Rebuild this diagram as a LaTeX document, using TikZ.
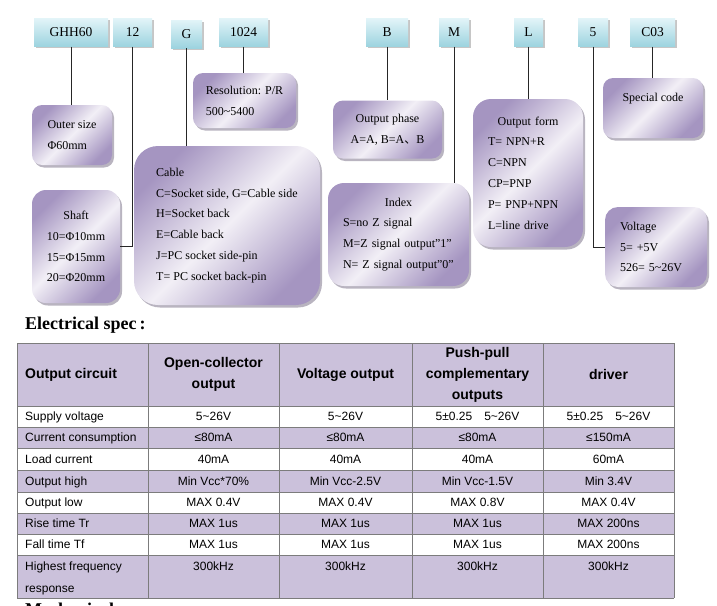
\documentclass[tikz,border=0pt]{standalone}
\usepackage{fontspec}
\setmainfont{Liberation Serif}
\setsansfont{Liberation Sans}
\newfontfamily\cjk{Noto Sans CJK SC}
\usetikzlibrary{shadows}
\definecolor{ccyanlt}{HTML}{E2F4F8}
\definecolor{ccyandk}{HTML}{9CD3DF}
\definecolor{cpurplelt}{HTML}{F2EFF6}
\definecolor{cpurpledk}{HTML}{A595C1}
\definecolor{ctable}{HTML}{CBC1DB}
\definecolor{cgrid}{HTML}{7C7C7C}
\tikzset{
  every picture/.style={x=1pt, y=-1pt},
  code/.style={top color=ccyanlt, bottom color=ccyandk, minimum height=28pt, inner sep=0pt,
    font=\fontsize{13.5}{16}\selectfont,
    drop shadow={shadow xshift=1.5pt, shadow yshift=-1.5pt, fill=black!50, opacity=.45}},
  info/.style={left color=cpurpledk, right color=cpurpledk, middle color=cpurplelt, shading angle=45,
    rounded corners=#1, inner sep=0pt, font=\fontsize{12}{20.8}\selectfont,
    drop shadow={shadow xshift=2pt, shadow yshift=-2.5pt, fill=cpurpledk!60!black, opacity=.45}},
  info/.default=10pt,
  link/.style={draw=black!85, line width=1pt},
  grid/.style={draw=cgrid, line width=1pt},
  cell/.style={font=\sffamily\fontsize{12}{22}\selectfont, inner sep=0pt, text height=8.6pt, text depth=0pt},
  head/.style={font=\sffamily\bfseries\fontsize{14}{21}\selectfont, inner sep=0pt, align=center},
  title/.style={font=\bfseries\fontsize{18}{20}\selectfont, inner sep=0pt, anchor=base west},
}
\begin{document}
\begin{tikzpicture}
  \useasboundingbox (0,0) rectangle (717,605);
  \clip (0,0) rectangle (717,605);
  % type code
  \node[code, minimum width=74pt] (ghh) at (71,32.5) {GHH60};
  \node[code, minimum width=39pt] (c12) at (132.5,32.5) {12};
  \node[code, minimum width=31pt] (cg) at (186.5,34) {G};
  \node[code, minimum width=49pt] (c1024) at (243.5,32.5) {1024};
  \node[code, minimum width=42pt] (cb) at (387,32.5) {B};
  \node[code, minimum width=30pt] (cm) at (454,32.5) {M};
  \node[code, minimum width=29pt] (cl) at (528.5,32.5) {L};
  \node[code, minimum width=30pt] (c5) at (593,32.5) {5};
  \node[code, minimum width=45pt] (cc03) at (652.5,32.5) {C03};
  % meaning of each part
  \node[info=10pt, minimum width=103pt, minimum height=55pt, align=left] (res) at (244.5,100.5) {Resolution: P/R\\500\textasciitilde5400};
  \node[info=10pt, minimum width=80pt, minimum height=60pt, align=left] (size) at (72,135) {Outer size\\Φ60mm};
  \node[info=10pt, minimum width=109pt, minimum height=58pt, align=center] (phase) at (387.5,129.5) {Output phase\\A=A, B=A{\cjk 、}B};
  \node[info=18pt, minimum width=110pt, minimum height=148pt, text width=80pt, align=left] (form) at (528,173)
    {\makebox[\linewidth]{Output form}\\T= NPN+R\\C=NPN\\CP=PNP\\P= PNP+NPN\\L=line drive};
  \node[info=10pt, minimum width=100pt, minimum height=60pt, align=center] (special) at (653,108) {Special code\\\mbox{}};
  \node[info=24pt, minimum width=186pt, minimum height=159pt, align=left] (cable) at (227,225.5)
    {Cable\\C=Socket side, G=Cable side\\H=Socket back\\E=Cable back\\J=PC socket side-pin\\T= PC socket back-pin};
  \node[info=14pt, minimum width=88pt, minimum height=113pt, align=center] (shaft) at (76,246.5)
    {Shaft\\10=Φ10mm\\15=Φ15mm\\20=Φ20mm};
  \node[info=16pt, minimum width=141pt, minimum height=103pt, text width=111pt, align=left] (index) at (398.5,234.5)
    {\makebox[\linewidth]{Index}\\S=no Z signal\\M=Z signal output”1”\\N= Z signal output”0”};
  \node[info=13pt, minimum width=102pt, minimum height=80pt, text width=72pt, align=left] (volt) at (656,247)
    {Voltage\\5= +5V\\526= 5\textasciitilde26V};
  % connectors
  \draw[link] (ghh.south) -- (ghh.south |- size.north);
  \draw[link] (c12.south) |- (shaft.east);
  \draw[link] (cg.south) -- (cg.south |- cable.north);
  \draw[link] (c1024.south) -- (c1024.south |- res.north);
  \draw[link] (cb.south) -- (cb.south |- phase.north);
  \draw[link] (cm.south) -- (cm.south |- index.north);
  \draw[link] (cl.south) -- (cl.south |- form.north);
  \draw[link] (c5.south) |- (volt.west);
  \draw[link] (cc03.south) -- (cc03.south |- special.north);
  % electrical spec table
  \node[title] (elec) at (25,329) {Electrical spec\,:};
  \fill[ctable] (17,343) rectangle (674,406);
  \foreach \ya/\yb in {427/448, 470/492, 513/534, 555/598}
    \fill[ctable] (17,\ya) rectangle (674,\yb);
  \foreach \y in {343,406,427,448,470,492,513,534,555,598}
    \draw[grid] (17,\y) -- (674,\y);
  \foreach \x in {17,148,279,412,543,674}
    \draw[grid] (\x,343) -- (\x,598);
  \node[head, anchor=west] (h0) at (25,374.5) {Output circuit};
  \node[head] (h1) at (213.5,374.5) {Open-collector\\output};
  \node[head] (h2) at (345.5,374.5) {Voltage output};
  \node[head] (h3) at (477.5,374.5) {Push-pull\\complementary\\outputs};
  \node[head] (h4) at (608.5,374.5) {driver};
  \foreach \y/\lab/\va/\vb/\vc/\vd [count=\i] in {
      416.5/Supply voltage/5\textasciitilde26V/5\textasciitilde26V/5±0.25\quad 5\textasciitilde26V/5±0.25\quad 5\textasciitilde26V,
      437.5/Current consumption/≤80mA/≤80mA/≤80mA/≤150mA,
      459/Load current/40mA/40mA/40mA/60mA,
      481/Output high/Min Vcc*70\%/Min Vcc-2.5V/Min Vcc-1.5V/Min 3.4V,
      502.5/Output low/MAX 0.4V/MAX 0.4V/MAX 0.8V/MAX 0.4V,
      523.5/Rise time Tr/MAX 1us/MAX 1us/MAX 1us/MAX 200ns,
      544.5/Fall time Tf/MAX 1us/MAX 1us/MAX 1us/MAX 200ns,
      566/Highest frequency/300kHz/300kHz/300kHz/300kHz} {
    \node[cell, anchor=west] (r\i) at (25,\y) {\lab};
    \node[cell] (r\i a) at (213.5,\y) {\va};
    \node[cell] (r\i b) at (345.5,\y) {\vb};
    \node[cell] (r\i c) at (477.5,\y) {\vc};
    \node[cell] (r\i d) at (608.5,\y) {\vd};
  }
  \node[cell, anchor=west] (r8x) at (25,588) {response};
  \node[title] (mech) at (25,615) {Mechanical};
\end{tikzpicture}
\end{document}
